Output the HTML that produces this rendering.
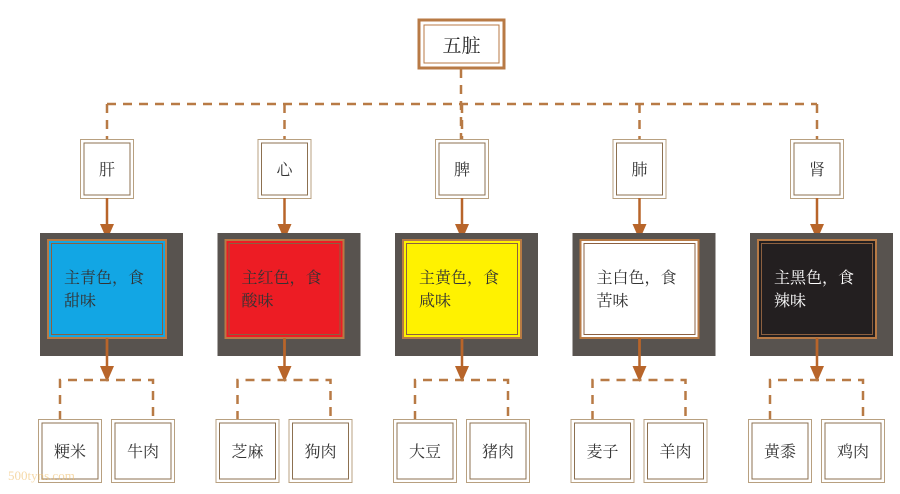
<!DOCTYPE html>
<html><head><meta charset="utf-8"><style>
html,body{margin:0;padding:0;background:#fff;}
svg{display:block;}
text{font-family:"Liberation Serif","Noto Serif CJK SC","Noto Sans CJK SC",serif;}
</style></head><body>
<svg width="900" height="494" viewBox="0 0 900 494" xmlns="http://www.w3.org/2000/svg">
<defs>
<g id="arrowdown"><polygon points="-7,-14 7,-14 0,2" fill="#b8652a"/></g>
</defs>
<!-- top box -->
<rect x="419" y="20" width="85" height="48" fill="#fff" stroke="#b87a45" stroke-width="3"/>
<rect x="424" y="25" width="75" height="38" fill="none" stroke="#b87a45" stroke-width="1"/>
<text x="461.5" y="52" font-size="19" text-anchor="middle" fill="#222" font-family="Liberation Sans,Noto Sans CJK SC,sans-serif">五脏</text>
<line x1="461" y1="69" x2="461" y2="139" stroke="#b87a45" stroke-width="2.5" stroke-dasharray="9,7"/>
<line x1="107" y1="104" x2="817" y2="104" stroke="#b87a45" stroke-width="2.5" stroke-dasharray="9,7"/>

<!-- column template via groups -->
<g id="col0">
<line x1="107" y1="104" x2="107" y2="139" stroke="#b87a45" stroke-width="2.5" stroke-dasharray="9,7"/>
<rect x="80.5" y="139.5" width="53" height="59" fill="#fff" stroke="#b8a080" stroke-width="1"/>
<rect x="84" y="143" width="46" height="52" fill="none" stroke="#8c7050" stroke-width="1"/>
<line x1="107" y1="198" x2="107" y2="226" stroke="#b8652a" stroke-width="2.5"/>
<use href="#arrowdown" x="107" y="238"/>
<rect x="40" y="233" width="143" height="123" fill="#58534f"/>
<line x1="107" y1="338" x2="107" y2="368" stroke="#b8652a" stroke-width="2.5"/>
<use href="#arrowdown" x="107" y="380"/>
<path d="M60,420 V380 H153 V420" fill="none" stroke="#b87a45" stroke-width="2.5" stroke-dasharray="9,7"/>
<rect x="38.5" y="419.5" width="63" height="63" fill="#fff" stroke="#b8a080"/>
<rect x="42" y="423" width="56" height="56" fill="none" stroke="#8c7050"/>
<rect x="111.5" y="419.5" width="63" height="63" fill="#fff" stroke="#b8a080"/>
<rect x="115" y="423" width="56" height="56" fill="none" stroke="#8c7050"/>
</g>
<use href="#col0" x="177.5"/>
<use href="#col0" x="355"/>
<use href="#col0" x="532.5"/>
<use href="#col0" x="710"/>

<!-- colored inner boxes -->
<rect x="48" y="240" width="118" height="98" fill="#12a6e4" stroke="#b87a45" stroke-width="2"/>
<rect x="225.5" y="240" width="118" height="98" fill="#ed1c24" stroke="#b87a45" stroke-width="2"/>
<rect x="403" y="240" width="118" height="98" fill="#fff200" stroke="#b87a45" stroke-width="2"/>
<rect x="580.5" y="240" width="118" height="98" fill="#fff" stroke="#b87a45" stroke-width="2"/>
<rect x="758" y="240" width="118" height="98" fill="#231f20" stroke="#b87a45" stroke-width="2"/>
<g fill="none" stroke="#8c6040" stroke-width="1">
<rect x="51.5" y="243.5" width="111" height="91"/>
<rect x="229" y="243.5" width="111" height="91"/>
<rect x="406.5" y="243.5" width="111" height="91"/>
<rect x="584" y="243.5" width="111" height="91"/>
<rect x="761.5" y="243.5" width="111" height="91"/>
</g>
<!-- arrow lines over inner boxes -->
<g stroke="#b8652a" stroke-width="2.5">
<line x1="107" y1="338" x2="107" y2="356"/><line x1="284.5" y1="338" x2="284.5" y2="356"/><line x1="462" y1="338" x2="462" y2="356"/><line x1="639.5" y1="338" x2="639.5" y2="356"/><line x1="817" y1="338" x2="817" y2="356"/>
</g>

<g font-size="16" fill="#333">
<text x="64" y="283">主青色，食</text><text x="64" y="306">甜味</text>
<text x="241.5" y="283">主红色，食</text><text x="241.5" y="306">酸味</text>
<text x="419" y="283">主黄色，食</text><text x="419" y="306">咸味</text>
<text x="596.5" y="283">主白色，食</text><text x="596.5" y="306">苦味</text>
<text x="774" y="283" fill="#fff">主黑色，食</text><text x="774" y="306" fill="#fff">辣味</text>
</g>

<g font-size="16" fill="#333" text-anchor="middle">
<text x="107" y="175">肝</text>
<text x="284.5" y="175">心</text>
<text x="462" y="175">脾</text>
<text x="639.5" y="175">肺</text>
<text x="817" y="175">肾</text>
<text x="70" y="457">粳米</text><text x="143" y="457">牛肉</text>
<text x="247.5" y="457">芝麻</text><text x="320.5" y="457">狗肉</text>
<text x="425" y="457">大豆</text><text x="498" y="457">猪肉</text>
<text x="602.5" y="457">麦子</text><text x="675.5" y="457">羊肉</text>
<text x="780" y="457">黄黍</text><text x="853" y="457">鸡肉</text>
</g>
<text x="8" y="480" font-size="13" fill="#f0c070" opacity="0.6" font-family="Liberation Sans,sans-serif">500tyns.com</text>
</svg>
</body></html>
